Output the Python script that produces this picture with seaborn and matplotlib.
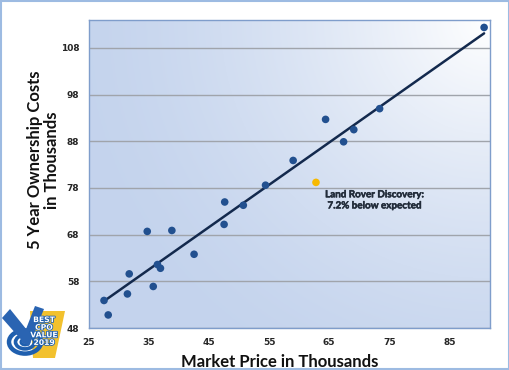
import matplotlib
matplotlib.use('Agg')

import numpy as np
import pandas as pd
import seaborn as sns
import matplotlib.pyplot as plt
import matplotlib.patheffects as pe
from matplotlib.patches import Polygon, Circle, Rectangle

# market price vs 5-year ownership cost (thousands)
market_price = [27.5, 28.2, 31.4, 31.7, 34.7, 35.7, 36.4, 36.9, 38.8, 42.5,
                47.5, 47.6, 50.7, 54.4, 59.0, 64.4, 67.4, 69.1, 73.4, 90.8]
ownership_cost = [53.9, 50.8, 55.3, 59.6, 68.7, 56.9, 61.6, 60.8, 68.9, 63.8,
                  70.2, 75.0, 74.3, 78.6, 83.9, 92.7, 87.9, 90.5, 95.0, 112.4]
highlight_price = [62.8]
highlight_cost = [79.2]
highlight_label = 'Land Rover Discovery:\n7.2% below expected'

x_ticks = [25, 35, 45, 55, 65, 75, 85]
y_ticks = [48, 58, 68, 78, 88, 98, 108]

cars = pd.DataFrame({'price': market_price + highlight_price,
                     'cost': ownership_cost + highlight_cost})

sns.set_style('white')
plt.rcParams['font.family'] = ['Lato', 'DejaVu Sans']

fig = plt.figure(figsize=(5.1, 3.7), dpi=100)
ax = fig.add_axes([0.1745, 0.1135, 0.7865, 0.8325])

# gradient background: blue bottom-left to white top-right
gx, gy = np.meshgrid(np.linspace(0, 1, 200), np.linspace(0, 1, 200))
d = np.clip(1 - np.hypot(1 - gx, (1 - gy) * 0.8) / 1.05, 0, 1) ** 1.5
c0 = np.array([0.77, 0.83, 0.93])
c1 = np.array([1.0, 1.0, 1.0])
grad = c0 + (c1 - c0) * d[..., None]
ax.imshow(grad, extent=[0, 1, 0, 1], transform=ax.transAxes, origin='lower',
          aspect='auto', zorder=0)

for yt in y_ticks:
    ax.axhline(yt, color='#a0a4ab', lw=1, zorder=1)

sns.regplot(data=cars, x='price', y='cost', ax=ax, ci=None, scatter=False,
            line_kws={'color': '#13294d', 'lw': 1.8, 'zorder': 2})
sns.scatterplot(x=market_price, y=ownership_cost, ax=ax, color='#22508f',
                s=30, edgecolor='none', zorder=3)
sns.scatterplot(x=highlight_price, y=highlight_cost, ax=ax, color='#f7b900',
                s=30, edgecolor='none', zorder=3)

ax.text(0.712, 0.447, highlight_label, transform=ax.transAxes, ha='center',
        va='top', fontsize=7.1, fontweight='bold', color='#222c3a',
        linespacing=1.3,
        path_effects=[pe.withStroke(linewidth=0.35, foreground='#222c3a')])

ax.set_xlim(25, 91.8)
ax.set_ylim(48, 114)
ax.set_xticks(x_ticks)
ax.set_yticks(y_ticks)
ax.tick_params(axis='y', length=5, width=0.8, color='#a0a4ab', pad=2,
               labelsize=6.5)
ax.tick_params(axis='x', length=0, pad=7, labelsize=6.5)
for lab in ax.get_xticklabels() + ax.get_yticklabels():
    lab.set_fontweight('bold')
    lab.set_family(['DejaVu Sans'])
for sp in ax.spines.values():
    sp.set_color('#7f9dcb')
    sp.set_linewidth(1)

ax.set_xlabel('Market Price in Thousands', fontsize=12, fontweight='bold',
              labelpad=2, color='#111111')
ax.xaxis.set_label_coords(0.476, -0.085)
ax.set_ylabel('5 Year Ownership Costs\nin Thousands', fontsize=12,
              fontweight='bold', color='#111111', linespacing=1.1)
ax.yaxis.set_label_coords(-0.072, 0.545)

# image border
fig.patches.append(Rectangle((0.002, 0.003), 0.996, 0.994,
                             transform=fig.transFigure, fill=False,
                             ec='#9dbbe2', lw=1.5))

# award badge (approximation)
px = 1 / 510.0
py = 1 / 370.0
def fp(x, y):
    return (x * px, 1 - y * py)

fig.patches.append(Polygon([fp(30, 311), fp(65, 311), fp(61, 330),
                            fp(55, 358), fp(33, 358)], closed=True,
                           transform=fig.transFigure, fc='#f2c12e',
                           ec='none', zorder=5))
for r, w in [(16, 3.2), (9.5, 2.6), (4, 2.2)]:
    fig.patches.append(Circle(fp(25, 342), r * px, transform=fig.transFigure,
                              fill=False, ec='#1f5fae', lw=w, zorder=6))
fig.patches.append(Polygon([fp(2, 318), fp(10, 309), fp(31, 335),
                            fp(25, 344)], closed=True,
                           transform=fig.transFigure, fc='#2a64b2',
                           ec='none', zorder=7))
fig.patches.append(Polygon([fp(21, 342), fp(35, 306), fp(44, 309),
                            fp(29, 346)], closed=True,
                           transform=fig.transFigure, fc='#2a64b2',
                           ec='none', zorder=7))
fig.text(fp(44, 331)[0], fp(44, 331)[1], 'BEST\nCPO\nVALUE\n2019',
         ha='center', va='center', fontsize=5.5, fontweight='bold',
         color='white', linespacing=0.8, zorder=8, family=['DejaVu Sans'],
         path_effects=[pe.withStroke(linewidth=1.2, foreground='#1f5fae')])

fig.savefig('out.png', dpi=100)
